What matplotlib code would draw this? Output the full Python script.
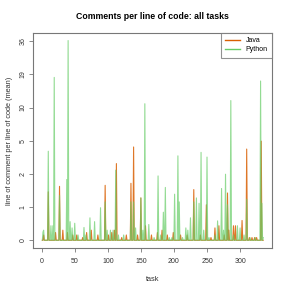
import numpy as np
import matplotlib
matplotlib.use("Agg")
import matplotlib.pyplot as plt

plt.rcParams['font.family'] = ['Liberation Sans', 'DejaVu Sans']

n_tasks = 335

# mean comments per line of code (other tasks ~0)
python_tasks = [2, 3, 10, 14, 17, 19, 27, 38, 40, 43, 46, 50, 55, 64, 67, 73, 80, 89,
                96, 99, 104, 108, 112, 116, 124, 135, 139, 142, 150, 153, 156, 162,
                170, 176, 180, 184, 187, 193, 197, 201, 206, 208, 213, 218, 221, 225,
                230, 234, 238, 241, 245, 250, 253, 262, 266, 272, 275, 278, 281, 286,
                290, 296, 300, 306, 310, 315, 323, 331, 333, 335]
python_vals = [0.16, 0.2, 4.0, 0.3, 0.3, 18, 1.25, 2.0, 36, 0.4, 0.25, 0.36, 0.1, 0.26,
               0.1, 0.5, 0.4, 0.8, 1.0, 0.2, 0.2, 0.2, 2.55, 0.1, 0.1, 1.0, 1.0, 0.25,
               1.15, 0.2, 10.8, 0.33, 0.05, 2.2, 0.1, 0.66, 1.6, 0.05, 0.05, 1.3, 3.6,
               1.0, 0.05, 0.25, 0.2, 0.5, 1.0, 1.15, 0.95, 3.9, 0.2, 3.5, 0.05, 0.1,
               0.42, 1.55, 0.2, 2.3, 0.9, 11.5, 0.1, 0.3, 0.25, 0.1, 1.1, 0.05, 0.05,
               16.8, 0.95, 0.05]

java_tasks = [3, 10, 21, 27, 32, 39, 47, 53, 62, 68, 75, 85, 96, 101, 106, 110, 113,
              121, 128, 135, 139, 145, 150, 157, 166, 175, 182, 190, 199, 210, 220,
              230, 240, 249, 256, 262, 268, 276, 281, 283, 290, 293, 303, 310, 314,
              318, 322, 325, 332]
java_vals = [0.1, 1.4, 0.15, 1.65, 0.2, 0.15, 0.1, 0.1, 0.05, 0.15, 0.2, 0.1, 1.7, 0.1,
             0.15, 0.2, 3.0, 0.05, 0.1, 1.8, 4.4, 0.1, 1.15, 0.3, 0.1, 0.15, 0.2, 0.1,
             0.15, 0.1, 0.1, 1.5, 0.1, 0.9, 0.05, 0.25, 0.3, 0.1, 1.35, 0.2, 0.3, 0.3,
             0.43, 4.2, 0.05, 0.05, 0.05, 0.05, 5.0]

tick_pos = [0, 0.6, 1.2, 1.8, 2.4, 3.0, 3.6]

task = np.arange(1, n_tasks + 1)
python = np.zeros(n_tasks)
python[np.array(python_tasks) - 1] = python_vals
java = np.zeros(n_tasks)
java[np.array(java_tasks) - 1] = java_vals

fig = plt.figure(figsize=(2.91, 2.91), dpi=100)
ax = fig.add_axes([0.115, 0.147, 0.82, 0.739])

ax.plot(task, np.log1p(java), color='#D95F02', lw=0.8, alpha=0.85, label='Java')
ax.plot(task, np.log1p(python), color='#66CC66', lw=0.8, alpha=0.7, label='Python')

ax.set_xlim(-12.4, 348.4)
ax.set_ylim(-0.144, 3.744)
ax.set_xticks([0, 50, 100, 150, 200, 250, 300])
ax.set_yticks(tick_pos)
ax.set_yticklabels([str(int(round(np.expm1(t)))) for t in tick_pos], rotation=90, va='center')

for s in ax.spines.values():
    s.set_color('#777777')
    s.set_linewidth(0.8)
ax.tick_params(length=3, width=0.6, color='#777777', labelsize=5, labelcolor='#333333')
ax.tick_params(axis='x', pad=4)
ax.tick_params(axis='y', pad=2)

ax.set_title('Comments per line of code: all tasks', fontsize=6.3, fontweight='bold', pad=10)
ax.set_xlabel('task', fontsize=5.3, color='#333333', labelpad=8)
ax.set_ylabel('line of comment per line of code (mean)', fontsize=5.3, color='#333333', labelpad=5)

leg = ax.legend(loc='upper right', fontsize=5, frameon=True, fancybox=False,
                borderaxespad=0, handlelength=2.2, borderpad=0.6, labelspacing=0.3)
leg.get_frame().set_edgecolor('#777777')
leg.get_frame().set_linewidth(0.8)
for line in leg.get_lines():
    line.set_alpha(1)
    line.set_linewidth(1.0)

fig.savefig('out.png', dpi=100)
